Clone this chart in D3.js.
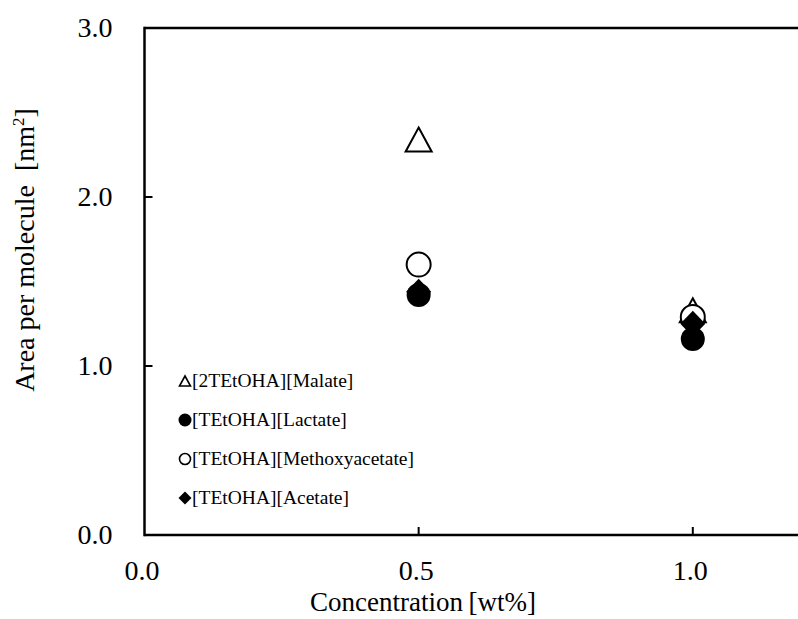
<!DOCTYPE html>
<html>
<head>
<meta charset="utf-8">
<script src="https://cdn.jsdelivr.net/npm/d3@7"></script>
<style>
  html, body { margin: 0; padding: 0; background: #fff; }
  svg { display: block; }
  text { font-family: "Liberation Serif", "Times New Roman", serif; fill: #000; }
</style>
</head>
<body>
<svg id="chart" width="798" height="619"></svg>
<script>
// Surfactant concentration (wt%) at which each area was measured
const concentrations = [0.5, 1.0];

// Area per molecule (nm²) for each ionic liquid
const malate = [2.34, 1.33];
const lactate = [1.42, 1.16];
const methoxyacetate = [1.60, 1.29];
const acetate = [1.44, 1.25];

const seriesNames = [
  "[2TEtOHA][Malate]",
  "[TEtOHA][Lactate]",
  "[TEtOHA][Methoxyacetate]",
  "[TEtOHA][Acetate]"
];

const xTicks = [0.0, 0.5, 1.0];
const yTicks = [0.0, 1.0, 2.0, 3.0];

const series = [
  { name: seriesNames[0], values: malate, marker: "triangle" },
  { name: seriesNames[1], values: lactate, marker: "dot" },
  { name: seriesNames[2], values: methoxyacetate, marker: "ring" },
  { name: seriesNames[3], values: acetate, marker: "diamond" }
];

const svg = d3.select("#chart");
const plotLeft = 144.5, plotTop = 28, plotBottom = 535;

const x = d3.scaleLinear().domain([0, 1.2]).range([plotLeft, plotLeft + 1.2 * 548.3]);
const y = d3.scaleLinear().domain([0, 3]).range([plotBottom, plotTop]);

// Marker shapes, centred at the origin
function markerPath(kind, s) {
  const p = d3.path();
  if (kind === "triangle") {
    const w = s.w, h = s.h;
    p.moveTo(0, -h / 2); p.lineTo(w / 2, h / 2); p.lineTo(-w / 2, h / 2); p.closePath();
  } else if (kind === "diamond") {
    p.moveTo(0, -s.h); p.lineTo(s.w, 0); p.lineTo(0, s.h); p.lineTo(-s.w, 0); p.closePath();
  } else {
    p.arc(0, 0, s.r, 0, 2 * Math.PI);
  }
  return p.toString();
}

const plotSizes = {
  triangle: { w: 26, h: 24 },
  dot: { r: 12 },
  ring: { r: 12 },
  diamond: { w: 12.5, h: 13 }
};
const legendSizes = {
  triangle: { w: 11, h: 10 },
  dot: { r: 6.5 },
  ring: { r: 5.5 },
  diamond: { w: 6.5, h: 6.5 }
};
function styleMarker(sel, kind, sw) {
  const filled = kind === "dot" || kind === "diamond";
  sel.attr("fill", filled ? "#000" : "#fff")
     .attr("stroke", "#000")
     .attr("stroke-width", filled ? 0 : sw)
     .attr("stroke-linejoin", "miter");
}

// Axes frame
const axes = svg.append("g").attr("stroke", "#000").attr("stroke-width", 2.5).attr("fill", "none");
axes.append("line").attr("x1", plotLeft).attr("x2", plotLeft).attr("y1", plotTop - 1.25).attr("y2", plotBottom + 1.25);
axes.append("line").attr("x1", plotLeft).attr("x2", 798).attr("y1", plotBottom).attr("y2", plotBottom);
axes.append("line").attr("x1", plotLeft).attr("x2", 798).attr("y1", plotTop).attr("y2", plotTop);

// Y axis ticks and labels
const yAxis = d3.axisLeft(y).tickValues(yTicks).tickSize(0).tickPadding(32).tickFormat(d3.format(".1f"));
const gy = svg.append("g").attr("transform", `translate(${plotLeft},0)`).call(yAxis);
gy.attr("font-family", null).attr("font-size", null);
gy.select(".domain").remove();
gy.selectAll("text").attr("font-size", 28).attr("dy", "0.32em");
svg.selectAll(".ytick").data(yTicks.filter(d => d > 0 && d < 3)).enter().append("line")
  .attr("x1", plotLeft).attr("x2", plotLeft + 8).attr("y1", d => y(d)).attr("y2", d => y(d))
  .attr("stroke", "#000").attr("stroke-width", 2);

// X axis ticks and labels
const xAxis = d3.axisBottom(x).tickValues(xTicks).tickSize(0).tickPadding(0).tickFormat(d3.format(".1f"));
const gx = svg.append("g").attr("transform", `translate(0,${plotBottom})`).call(xAxis);
gx.attr("font-family", null).attr("font-size", null);
gx.select(".domain").remove();
gx.selectAll("text").attr("font-size", 28).attr("dy", null).attr("y", 45).attr("dx", -3);
svg.selectAll(".xtick").data(xTicks.filter(d => d > 0)).enter().append("line")
  .attr("x1", d => x(d)).attr("x2", d => x(d)).attr("y1", plotBottom).attr("y2", plotBottom - 8)
  .attr("stroke", "#000").attr("stroke-width", 2);

// Axis titles
svg.append("text").attr("x", 423).attr("y", 611).attr("font-size", 27).attr("text-anchor", "middle")
  .text("Concentration\u2009[wt%]");
const yt = svg.append("text").attr("transform", "translate(34,250) rotate(-90)")
  .attr("font-size", 28).attr("text-anchor", "middle");
yt.append("tspan").text("Area per molecule\u2002[nm");
yt.append("tspan").attr("font-size", 17).attr("dy", -10).text("2");
yt.append("tspan").attr("dy", 10).text("]");

// Data markers
const pts = svg.append("g");
series.forEach(s => {
  pts.selectAll(null).data(s.values.map((v, i) => ({ cx: concentrations[i], v }))).enter()
    .append("path")
    .attr("d", markerPath(s.marker, plotSizes[s.marker]))
    .attr("transform", d => `translate(${x(d.cx)},${y(d.v)})`)
    .call(styleMarker, s.marker, 2);
});

// Legend
const legend = svg.append("g");
series.forEach((s, i) => {
  const base = 387 + i * 39;
  legend.append("path")
    .attr("d", markerPath(s.marker, legendSizes[s.marker]))
    .attr("transform", `translate(185,${base - 6})`)
    .call(styleMarker, s.marker, 1.6);
  legend.append("text").attr("x", 192).attr("y", base).attr("font-size", 19.5).text(s.name);
});
</script>
</body>
</html>
